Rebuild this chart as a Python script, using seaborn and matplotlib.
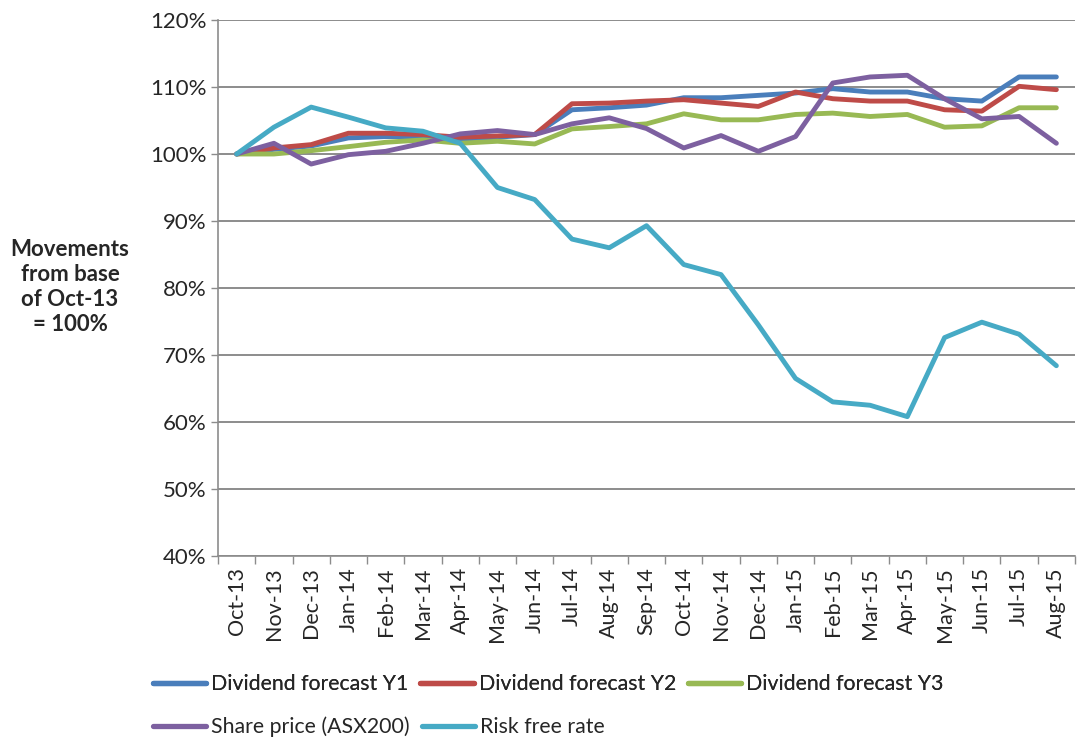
import numpy as np
import pandas as pd
import seaborn as sns
import matplotlib.pyplot as plt
from matplotlib.ticker import FuncFormatter, FixedLocator
from matplotlib.lines import Line2D

months = ['Oct-13', 'Nov-13', 'Dec-13', 'Jan-14', 'Feb-14', 'Mar-14', 'Apr-14', 'May-14',
          'Jun-14', 'Jul-14', 'Aug-14', 'Sep-14', 'Oct-14', 'Nov-14', 'Dec-14', 'Jan-15',
          'Feb-15', 'Mar-15', 'Apr-15', 'May-15', 'Jun-15', 'Jul-15', 'Aug-15']

div_y1 = [100.0, 100.7, 101.2, 102.4, 102.6, 102.6, 102.2, 102.5, 102.9, 106.6, 106.9, 107.3,
          108.4, 108.4, 108.75, 109.1, 109.75, 109.25, 109.25, 108.25, 107.9, 111.5, 111.5]
div_y2 = [100.0, 100.9, 101.4, 103.1, 103.1, 102.9, 102.5, 102.7, 102.9, 107.5, 107.6, 107.9,
          108.1, 107.6, 107.1, 109.25, 108.25, 107.9, 107.9, 106.6, 106.4, 110.1, 109.6]
div_y3 = [100.0, 100.0, 100.5, 101.1, 101.75, 102.1, 101.6, 101.9, 101.5, 103.75, 104.1, 104.5,
          106.0, 105.1, 105.1, 105.9, 106.1, 105.6, 105.9, 104.0, 104.2, 106.9, 106.9]
share_price = [100.0, 101.6, 98.5, 99.9, 100.4, 101.6, 103.0, 103.5, 102.9, 104.5, 105.4, 103.8,
               100.9, 102.75, 100.4, 102.6, 110.6, 111.5, 111.75, 108.25, 105.25, 105.6, 101.6]
risk_free = [100.0, 104.0, 107.0, 105.5, 103.9, 103.4, 101.6, 95.0, 93.2, 87.3, 86.0, 89.3,
             83.5, 82.0, 74.5, 66.5, 63.0, 62.5, 60.8, 72.6, 74.9, 73.1, 68.4]

series_names = ['Dividend forecast Y1', 'Dividend forecast Y2', 'Dividend forecast Y3',
                'Share price (ASX200)', 'Risk free rate']
colors = ['#4A7EBB', '#BE4B48', '#98B954', '#7D60A0', '#46AAC5']

frames = []
for name, vals in zip(series_names, [div_y1, div_y2, div_y3, share_price, risk_free]):
    frames.append(pd.DataFrame({'idx': np.arange(len(months)), 'value': vals, 'series': name}))
df = pd.concat(frames, ignore_index=True)

sns.set_style('white')
plt.rcParams['font.family'] = ['Lato', 'DejaVu Sans']

fig = plt.figure(figsize=(10.77, 7.40), dpi=100)
ax = fig.add_axes([218 / 1077, 1 - 556 / 740, (1075 - 218) / 1077, (556 - 20) / 740])

sns.lineplot(data=df, x='idx', y='value', hue='series', hue_order=series_names,
             palette=colors, linewidth=3.5, legend=False, ax=ax)
for ln in ax.lines:
    ln.set_solid_joinstyle('round')
    ln.set_solid_capstyle('round')

ax.set_ylim(40, 120)
ax.set_xlim(-0.5, len(months) - 0.5)
ax.set_yticks(np.arange(40, 121, 10))
ax.yaxis.set_major_formatter(FuncFormatter(lambda v, p: f'{v:.0f}%'))
ax.yaxis.grid(True, color='#8c8c8c', linewidth=1.4)
ax.set_axisbelow(True)

ax.set_xticks(np.arange(len(months)))
ax.set_xticklabels(months, rotation=90, fontsize=15.5)
ax.xaxis.set_minor_locator(FixedLocator(np.arange(-0.5, len(months), 1.0)))
ax.tick_params(axis='x', which='major', length=0, pad=8)
ax.tick_params(axis='x', which='minor', length=6, width=1, color='#8c8c8c', direction='out', bottom=True)
ax.tick_params(axis='y', which='major', length=5, width=1, color='#8c8c8c', direction='out',
               left=True, labelsize=16, pad=3)

for side in ['top', 'right']:
    ax.spines[side].set_visible(False)
for side in ['left', 'bottom']:
    ax.spines[side].set_color('#8c8c8c')
    ax.spines[side].set_linewidth(1.2)

ax.set_xlabel('')
ax.set_ylabel('')

fig.text(70 / 1077, 1 - 287 / 740, 'Movements\nfrom base\nof Oct-13\n= 100%',
         ha='center', va='center', multialignment='center', fontsize=16,
         fontweight='bold', linespacing=1.25)

handles = [Line2D([0], [0], color=c, linewidth=3.8) for c in colors]
leg_kw = dict(loc='center left', frameon=False, fontsize=15.3, handlelength=2.5,
              handletextpad=0.25, columnspacing=0.55, borderpad=0, borderaxespad=0)
leg1 = fig.legend(handles[:3], series_names[:3], ncol=3,
                  bbox_to_anchor=(153 / 1077, 1 - 684 / 740), **leg_kw)
fig.add_artist(leg1)
fig.legend(handles[3:], series_names[3:], ncol=2,
           bbox_to_anchor=(153 / 1077, 1 - 727 / 740), **leg_kw)

fig.savefig('out.png', dpi=100)
